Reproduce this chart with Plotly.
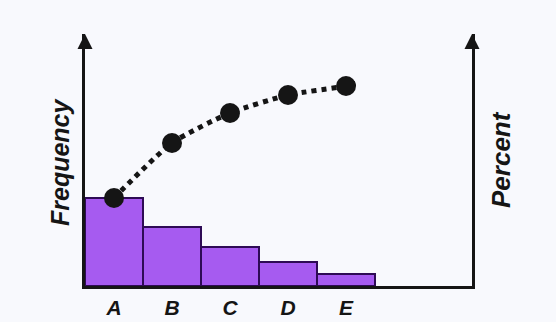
import plotly.graph_objects as go

# Pareto chart: frequency bars with a cumulative-percent trend line
categories = ["A", "B", "C", "D", "E"]
frequency = [36, 24, 16, 10, 5]
cumulative_pct = [44, 71.5, 86.5, 95.5, 100]
# short extension of the trend beyond the last category
trend_tail_x = 4.24
trend_tail_pct = 102

W, H = 556, 322
left, right, top, bottom = 85, 84, 34, 36
plot_w = W - left - right
plot_h = H - top - bottom
bar_px = 58  # on-screen width of one category slot

x_pos = list(range(len(categories)))
x_max = -0.5 + plot_w / bar_px

ink = "#151515"
font_face = "Liberation Sans, Arial, sans-serif"

fig = go.Figure()

fig.add_trace(go.Bar(
    x=x_pos, y=frequency, width=1,
    marker=dict(color="#a65bf0", line=dict(color="#2e0b55", width=2)),
    hoverinfo="skip",
))

# dotted trend through the cumulative points, plus its tail
fig.add_trace(go.Scatter(
    x=x_pos + [trend_tail_x], y=cumulative_pct + [trend_tail_pct],
    yaxis="y2", mode="lines",
    line=dict(color=ink, width=5, dash="5px,5px", shape="spline", smoothing=0.6),
    hoverinfo="skip",
))
fig.add_trace(go.Scatter(
    x=x_pos, y=cumulative_pct, yaxis="y2", mode="markers",
    marker=dict(color=ink, size=20),
    hoverinfo="skip",
))

fig.update_layout(
    width=W, height=H,
    margin=dict(l=left, r=right, t=top, b=bottom, autoexpand=False),
    paper_bgcolor="#f8f9fd",
    plot_bgcolor="#f8f9fd",
    showlegend=False,
    bargap=0,
    xaxis=dict(
        range=[-0.5, x_max], tickmode="array", tickvals=x_pos, ticktext=categories,
        showgrid=False, zeroline=False, showline=True, linecolor=ink, linewidth=3,
        ticks="", ticklabelstandoff=1, automargin=False,
        tickfont=dict(family=font_face, size=21, color=ink, weight="bold", style="italic"),
        fixedrange=True,
    ),
    yaxis=dict(
        range=[0, 103], showgrid=False, zeroline=False, showticklabels=False,
        showline=True, linecolor=ink, linewidth=3, ticks="", automargin=False,
    ),
    yaxis2=dict(
        range=[0, 126], overlaying="y", side="right", showgrid=False, zeroline=False,
        showticklabels=False, showline=True, linecolor=ink, linewidth=3, ticks="",
        automargin=False,
    ),
)

# arrowheads on the two vertical axes
for xp in (0, 1):
    fig.add_annotation(
        x=xp, y=1, xref="paper", yref="paper", ax=0, ay=14,
        showarrow=True, arrowhead=2, arrowsize=1.0, arrowwidth=3, arrowcolor=ink, text="",
    )

# axis titles, positioned in pixels and converted to plot-area fractions
for text, px, py, size in (("Frequency", 60, 162, 25), ("Percent", 501, 160, 26)):
    fig.add_annotation(
        x=(px - left) / plot_w, y=(H - py - bottom) / plot_h,
        xref="paper", yref="paper", xanchor="center", yanchor="middle",
        text=text, textangle=-90, showarrow=False,
        font=dict(family=font_face, size=size, color=ink, weight="bold", style="italic"),
    )

fig.write_html("out.html")
